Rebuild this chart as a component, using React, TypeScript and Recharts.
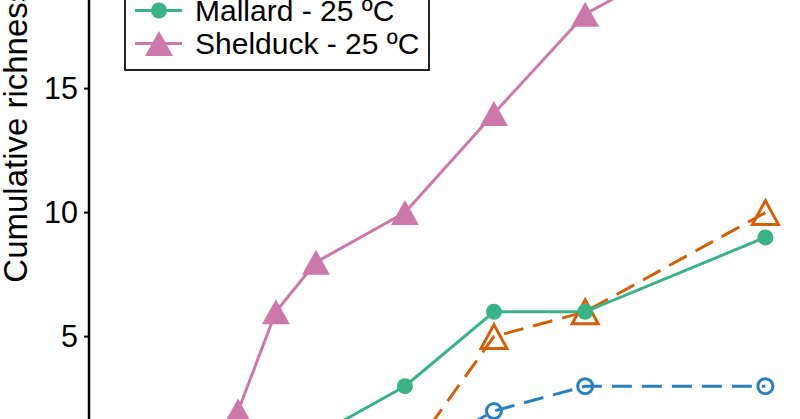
import React from "react";
import { LineChart, Line, XAxis, YAxis, Legend } from "recharts";

// sampling days and cumulative richness per group
const days = [3.35, 4.2, 5.1, 7.1, 9.1, 11.15, 15.2];
const mallard15 = [0, 0, 0, 0, 2, 3, 3];
const shelduck15 = [0, 0, 0, 0, 5, 6, 10];
const mallard25 = [0, 0, 1, 3, 6, 6, 9];
const shelduck25 = [2, 6, 8, 10, 14, 18, 22];
const yTicks = [0, 5, 10, 15, 20, 25];
const seriesNames = ["Mallard - 15 ºC", "Shelduck - 15 ºC", "Mallard - 25 ºC", "Shelduck - 25 ºC"];

const rows = days.map((d, i) => ({
  day: d,
  m15: mallard15[i],
  s15: shelduck15[i],
  m25: mallard25[i],
  s25: shelduck25[i],
}));

const FONT = '"Liberation Sans", Arial, sans-serif';
const COLORS = { m15: "#2a7fbf", s15: "#d45f0a", m25: "#3bb286", s25: "#cc78aa" };

const triPath = (cx: number, cy: number, w: number, h: number) =>
  `M${cx},${cy - h / 2} L${cx + w / 2},${cy + h / 2} L${cx - w / 2},${cy + h / 2} Z`;

function Marker({ kind, cx, cy }: { kind: string; cx: number; cy: number }) {
  if (kind === "m15")
    return <circle cx={cx} cy={cy} r={7.5} fill="none" stroke={COLORS.m15} strokeWidth={3} />;
  if (kind === "s15")
    return <path d={triPath(cx, cy, 26, 24)} fill="none" stroke={COLORS.s15} strokeWidth={3} />;
  if (kind === "m25") return <circle cx={cx} cy={cy} r={8} fill={COLORS.m25} />;
  return <path d={triPath(cx, cy, 28, 25)} fill={COLORS.s25} />;
}

const dotFor = (kind: string) => (p: any) => (
  <g key={`${kind}-${p.index}`}>
    <Marker kind={kind} cx={p.cx} cy={p.cy} />
  </g>
);

function LegendBox({ payload }: any) {
  return (
    <div
      style={{
        border: "2px solid #222",
        background: "#fff",
        padding: "9.5px 0",
        boxSizing: "border-box",
        width: 306,
        fontFamily: FONT,
        fontSize: 30,
        color: "#000",
      }}
    >
      {(payload || []).map((item: any) => {
        const key = item.dataKey as string;
        return (
          <div key={key} style={{ display: "flex", alignItems: "center", height: 33 }}>
            <svg width={60} height={33} style={{ display: "block" }}>
              <line x1={9} x2={56} y1={16.5} y2={16.5} stroke={item.color} strokeWidth={3}
                strokeDasharray={key.endsWith("15") ? "20 10" : undefined} />
              <Marker kind={key} cx={33} cy={16.5} />
            </svg>
            <span style={{ marginLeft: 9, whiteSpace: "nowrap", lineHeight: "33px" }}>{item.value}</span>
          </div>
        );
      })}
    </div>
  );
}

function YLabel(props: any) {
  const vb = props.viewBox || {};
  const cx = 16;
  const cy = vb.y + vb.height / 2 - 4;
  return (
    <text x={cx} y={cy} transform={`rotate(-90 ${cx} ${cy})`} textAnchor="middle"
      dominantBaseline="central" fill="#000" fontSize={33} fontFamily={FONT}>
      Cumulative richness
    </text>
  );
}

export default function App() {
  return (
    <div style={{ position: "fixed", left: 0, top: 0, width: 800, height: 419, overflow: "hidden", background: "#fff" }}>
      <div style={{ position: "absolute", left: 0, top: -218.6 }}>
        <LineChart width={855.5} height={714.4} data={rows} margin={{ top: 10, right: 10, left: 0, bottom: 10 }}>
          <XAxis dataKey="day" type="number" domain={[0, 17]} hide />
          <YAxis
            width={89}
            domain={[-1, 27]}
            ticks={yTicks}
            stroke="#000"
            axisLine={{ stroke: "#000", strokeWidth: 2.5 }}
            tickLine={{ stroke: "#000", strokeWidth: 2 }}
            tickSize={5}
            tickMargin={6}
            tick={{ fill: "#000", fontSize: 30.5, fontFamily: FONT }}
            label={{ content: <YLabel /> }}
          />
          <Legend
            layout="vertical"
            align="center"
            verticalAlign="middle"
            width={306}
            itemSorter={(item: any) => seriesNames.indexOf(item.value)}
            wrapperStyle={{ top: 134.6, left: 124 }}
            content={<LegendBox />}
          />
          <Line dataKey="m15" name={seriesNames[0]} stroke={COLORS.m15} strokeWidth={3} strokeDasharray="20 10"
            dot={dotFor("m15")} activeDot={false} isAnimationActive={false} />
          <Line dataKey="s15" name={seriesNames[1]} stroke={COLORS.s15} strokeWidth={3} strokeDasharray="20 10"
            dot={dotFor("s15")} activeDot={false} isAnimationActive={false} />
          <Line dataKey="m25" name={seriesNames[2]} stroke={COLORS.m25} strokeWidth={3}
            dot={dotFor("m25")} activeDot={false} isAnimationActive={false} />
          <Line dataKey="s25" name={seriesNames[3]} stroke={COLORS.s25} strokeWidth={3}
            dot={dotFor("s25")} activeDot={false} isAnimationActive={false} />
        </LineChart>
      </div>
    </div>
  );
}
